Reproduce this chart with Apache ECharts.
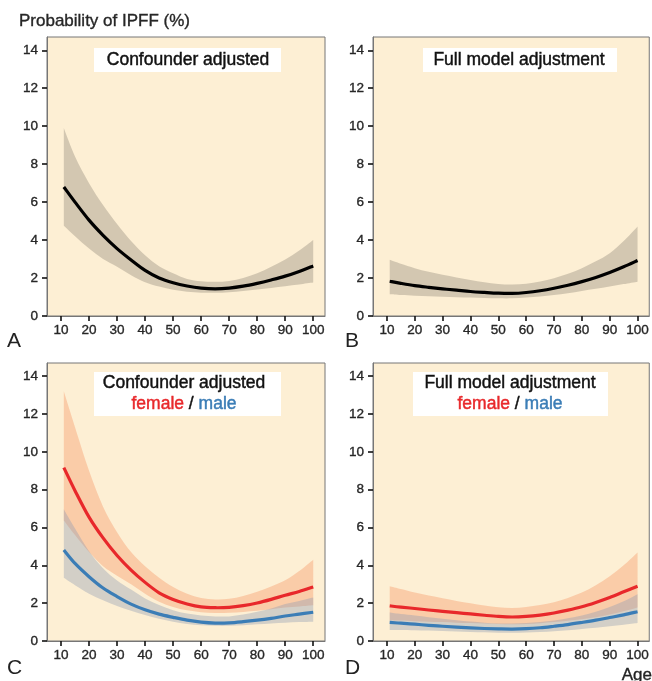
<!DOCTYPE html>
<html>
<head>
<meta charset="utf-8">
<script src="https://cdn.jsdelivr.net/npm/echarts@6/dist/echarts.min.js"></script>
<style>
html,body{margin:0;padding:0;background:#fff;}
#chart{width:652px;height:681px;}
</style>
</head>
<body>
<div id="chart"></div>
<script>
// ---- data ----
const ages = [11,15,20,25,30,35,40,45,50,55,60,65,70,75,80,85,90,95,100];
const xTicks = [10,20,30,40,50,60,70,80,90,100];
const yTicks = [0,2,4,6,8,10,12,14];

// Panel A: confounder adjusted
const aFit = [6.8,6.0,5.05,4.25,3.55,2.95,2.4,2.0,1.75,1.58,1.47,1.43,1.47,1.57,1.72,1.9,2.1,2.35,2.64];
const aUp  = [9.9,8.4,7.0,5.85,4.85,3.95,3.2,2.62,2.25,1.95,1.83,1.8,1.85,2.0,2.25,2.6,2.98,3.45,4.0];
const aLo  = [4.75,4.2,3.55,3.0,2.6,2.15,1.78,1.55,1.38,1.28,1.23,1.22,1.25,1.32,1.4,1.48,1.57,1.66,1.76];

// Panel B: full model adjustment
const bFit = [1.83,1.72,1.6,1.51,1.43,1.36,1.29,1.24,1.2,1.19,1.24,1.33,1.46,1.62,1.81,2.03,2.29,2.59,2.92];
const bUp  = [2.96,2.75,2.52,2.33,2.17,2.03,1.9,1.78,1.69,1.66,1.7,1.82,1.99,2.22,2.52,2.88,3.31,3.95,4.72];
const bLo  = [1.14,1.1,1.07,1.04,1.02,0.99,0.97,0.95,0.93,0.93,0.97,1.03,1.11,1.2,1.32,1.43,1.55,1.68,1.81];

// Panel C: confounder adjusted, female / male
const cFemFit = [9.17,7.95,6.55,5.45,4.52,3.75,3.1,2.55,2.2,1.96,1.8,1.76,1.78,1.87,2.01,2.2,2.42,2.62,2.86];
const cFemUp  = [13.2,11.3,9.0,7.1,5.75,4.7,3.95,3.35,2.85,2.5,2.28,2.2,2.23,2.38,2.6,2.88,3.21,3.7,4.3];
const cFemLo  = [6.37,5.6,4.7,3.95,3.45,3.0,2.5,2.08,1.8,1.62,1.52,1.48,1.49,1.54,1.6,1.68,1.77,1.83,1.89];
const cMalFit = [4.81,4.1,3.4,2.8,2.35,1.95,1.65,1.42,1.25,1.1,1.0,0.95,0.96,1.02,1.1,1.2,1.32,1.42,1.52];
const cMalUp  = [6.97,5.95,4.75,3.85,3.2,2.72,2.25,1.9,1.63,1.45,1.35,1.3,1.3,1.4,1.55,1.72,1.95,2.12,2.3];
const cMalLo  = [3.34,2.95,2.5,2.15,1.85,1.6,1.38,1.18,1.02,0.9,0.83,0.8,0.8,0.83,0.88,0.93,0.97,1.0,1.02];

// Panel D: full model adjustment, female / male
const dFemFit = [1.86,1.79,1.72,1.64,1.57,1.5,1.43,1.36,1.3,1.27,1.3,1.37,1.48,1.63,1.81,2.04,2.3,2.6,2.9];
const dFemUp  = [2.9,2.75,2.56,2.4,2.26,2.12,2.0,1.88,1.79,1.75,1.8,1.9,2.05,2.28,2.56,2.95,3.43,4.0,4.68];
const dFemLo  = [1.1,1.08,1.05,1.02,1.0,0.97,0.95,0.92,0.9,0.89,0.9,0.94,1.0,1.07,1.15,1.26,1.4,1.57,1.77];
const dMalFit = [0.98,0.94,0.89,0.83,0.78,0.73,0.69,0.66,0.64,0.63,0.65,0.7,0.78,0.87,0.98,1.1,1.24,1.38,1.55];
const dMalUp  = [1.51,1.43,1.35,1.26,1.18,1.1,1.03,0.97,0.93,0.92,0.95,1.0,1.08,1.2,1.35,1.55,1.8,2.1,2.47];
const dMalLo  = [0.58,0.58,0.57,0.55,0.53,0.5,0.48,0.46,0.44,0.44,0.45,0.48,0.52,0.57,0.64,0.7,0.78,0.86,0.95];

const titles = ['Confounder adjusted','Full model adjustment','Confounder adjusted','Full model adjustment'];
const panelLetters = ['A','B','C','D'];

// ---- styling ----
const FONT = '"Liberation Sans", Arial, Helvetica, sans-serif';
const BG = '#fdefd4';
const BLACK_BAND = 'rgba(0,0,0,0.165)';
const RED_BAND = 'rgba(244,90,30,0.24)';
const BLUE_BAND = 'rgba(141,156,180,0.38)';
const RED = '#e8282b';
const BLUE = '#3b7db6';
const TXT = '#262626';

const grids = [
  {left:47, top:37, width:278, height:279},
  {left:373, top:37, width:278, height:279},
  {left:47, top:363, width:278, height:278},
  {left:373, top:363, width:278, height:278}
];

// Catmull-Rom spline through pixel points -> SVG path segments (pure rendering)
function splineSegs(pts, moveFirst){
  let d = (moveFirst ? 'M' : 'L') + pts[0][0].toFixed(2) + ',' + pts[0][1].toFixed(2);
  for (let i = 0; i < pts.length - 1; i++){
    const p0 = pts[Math.max(i-1,0)], p1 = pts[i], p2 = pts[i+1], p3 = pts[Math.min(i+2, pts.length-1)];
    const c1x = p1[0] + (p2[0]-p0[0])/6, c1y = p1[1] + (p2[1]-p0[1])/6;
    const c2x = p2[0] - (p3[0]-p1[0])/6, c2y = p2[1] - (p3[1]-p1[1])/6;
    d += 'C' + c1x.toFixed(2)+','+c1y.toFixed(2)+' '+c2x.toFixed(2)+','+c2y.toFixed(2)+' '+p2[0].toFixed(2)+','+p2[1].toFixed(2);
  }
  return d;
}

function bandSeries(idx, lo, up, color, z){
  return {
    type:'custom', xAxisIndex:idx, yAxisIndex:idx, z:z, silent:true, clip:true,
    data: ages.map((a,i)=>[a, lo[i], up[i]]),
    encode:{x:0, y:[1,2]},
    renderItem: function(params, api){
      if (params.dataIndex !== 0) return null;
      const upPts = ages.map((a,i)=>api.coord([a, up[i]]));
      const loPts = ages.map((a,i)=>api.coord([a, lo[i]])).reverse();
      const d = splineSegs(upPts, true) + splineSegs(loPts, false) + 'Z';
      return {type:'path', shape:{pathData:d}, style:{fill:color, stroke:null}};
    }
  };
}
function fitSeries(idx, arr, color, z){
  return {
    type:'custom', xAxisIndex:idx, yAxisIndex:idx, z:z, silent:true, clip:true,
    data: ages.map((a,i)=>[a, arr[i]]),
    encode:{x:0, y:1},
    renderItem: function(params, api){
      if (params.dataIndex !== 0) return null;
      const pts = ages.map((a,i)=>api.coord([a, arr[i]]));
      return {type:'path', shape:{pathData:splineSegs(pts, true)},
        style:{fill:null, stroke:color, lineWidth:3.2, lineCap:'butt', lineJoin:'round'}};
    }
  };
}

const series = [
  bandSeries(0, aLo, aUp, BLACK_BAND, 2), fitSeries(0, aFit, '#000', 5),
  bandSeries(1, bLo, bUp, BLACK_BAND, 2), fitSeries(1, bFit, '#000', 5),
  bandSeries(2, cFemLo, cFemUp, RED_BAND, 2), bandSeries(2, cMalLo, cMalUp, BLUE_BAND, 3),
  fitSeries(2, cFemFit, RED, 5), fitSeries(2, cMalFit, BLUE, 5),
  bandSeries(3, dFemLo, dFemUp, RED_BAND, 2), bandSeries(3, dMalLo, dMalUp, BLUE_BAND, 3),
  fitSeries(3, dFemFit, RED, 5), fitSeries(3, dMalFit, BLUE, 5)
];

const labelStyle = {fontSize:13.5, color:TXT, fontFamily:FONT, textBorderColor:TXT, textBorderWidth:0.35};
const xAxes = grids.map((g,i)=>({
  type:'value', gridIndex:i, min:5, max:104.2,
  axisLine:{show:true, lineStyle:{color:'#767676', width:1}},
  axisTick:{show:true, length:5, lineStyle:{color:'#111', width:1.6}, customValues:xTicks},
  axisLabel:Object.assign({customValues:xTicks, margin:7}, labelStyle),
  splitLine:{show:false}
}));
const yAxes = grids.map((g,i)=>({
  type:'value', gridIndex:i, min:0, max:14.7,
  axisLine:{show:true, lineStyle:{color:'#767676', width:1}},
  axisTick:{show:true, length:5, lineStyle:{color:'#111', width:1.6}, customValues:yTicks},
  axisLabel:Object.assign({customValues:yTicks, margin:9}, labelStyle),
  splitLine:{show:false}
}));

// title boxes
const boxes = [
  {x:94, y:48, w:187, h:24, cx:188, two:false},
  {x:423, y:48, w:194, h:24, cx:519, two:false},
  {x:94, y:372, w:187, h:44, cx:184, two:true},
  {x:413, y:372, w:195, h:44, cx:510, two:true}
];
const TF = '17.5px ' + FONT;
const graphic = [];
boxes.forEach((b,i)=>{
  graphic.push({type:'rect', shape:{x:b.x, y:b.y, width:b.w, height:b.h}, style:{fill:'#fff'}, z:100});
  graphic.push({type:'text', x:b.cx, y: b.two ? b.y+11.5 : b.y+b.h/2, z:101,
    style:{text:titles[i], fill:'#111', stroke:'#111', lineWidth:0.45, font:TF, align:'center', verticalAlign:'middle'}});
  if (b.two){
    graphic.push({type:'text', x:b.cx, y:b.y+32.5, z:101,
      style:{text:'{r|female} / {b|male}', fill:'#111', stroke:'#111', lineWidth:0.45, font:TF, align:'center', verticalAlign:'middle',
        rich:{r:{fill:RED, stroke:RED, lineWidth:0.45, font:TF}, b:{fill:BLUE, stroke:BLUE, lineWidth:0.45, font:TF}}}});
  }
});
const letterPos = [[7,341],[345,341],[7,668],[345,668]];
panelLetters.forEach((L,i)=>{
  graphic.push({type:'text', x:letterPos[i][0], y:letterPos[i][1], z:101,
    style:{text:L, fill:'#222', font:'21px ' + FONT, align:'left', verticalAlign:'middle'}});
});
graphic.push({type:'text', x:19, y:21, z:101,
  style:{text:'Probability of IPFF (%)', fill:TXT, stroke:TXT, lineWidth:0.35, font:'17px ' + FONT, align:'left', verticalAlign:'middle'}});
graphic.push({type:'text', x:652, y:675, z:101,
  style:{text:'Age', fill:'#222', stroke:'#222', lineWidth:0.35, font:'17px ' + FONT, align:'right', verticalAlign:'middle'}});

const chart = echarts.init(document.getElementById('chart'), null, {renderer:'canvas'});
chart.setOption({
  animation:false,
  backgroundColor:'#fff',
  grid: grids.map(g=>Object.assign({show:true, backgroundColor:BG, borderColor:'#767676', borderWidth:1, containLabel:false}, g)),
  xAxis: xAxes,
  yAxis: yAxes,
  series: series,
  graphic: graphic
});
</script>
</body>
</html>
